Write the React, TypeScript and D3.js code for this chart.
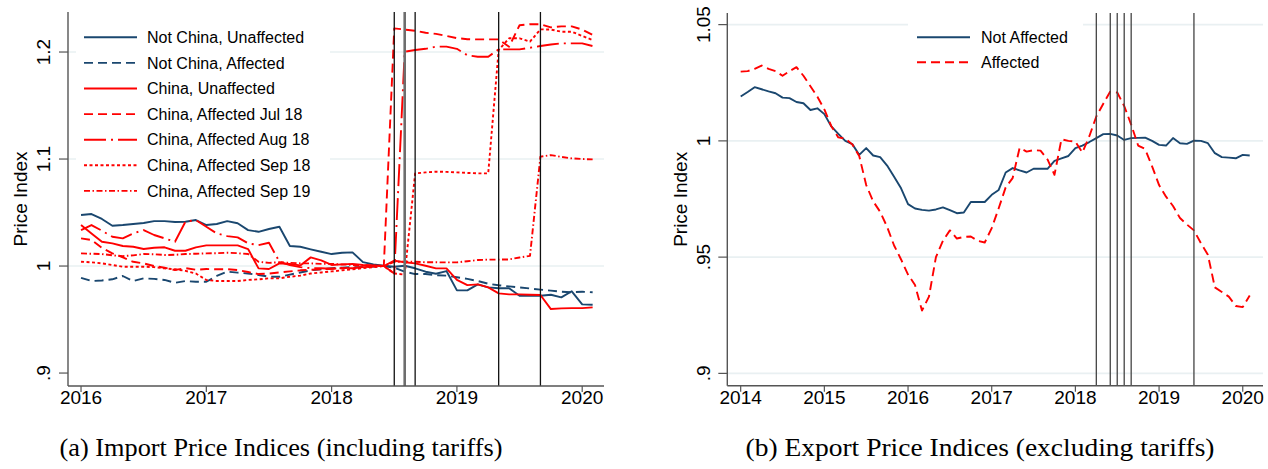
import React from 'react';
import * as d3 from 'd3';

// ---------- DATA ----------
// Panel (a): monthly, Jan 2016 - Feb 2020
const importStartYear = 2016;
const notChinaUnaffected = [1.0477,1.0486,1.044,1.0377,1.0383,1.0393,1.0402,1.042,1.042,1.0411,1.0414,1.043,1.0383,1.0393,1.042,1.040,1.0336,1.032,1.0346,1.0367,1.0187,1.018,1.0156,1.0134,1.0112,1.0124,1.0128,1.0037,1.0016,1.0003,0.9993,1.0003,0.9979,0.9947,0.9928,0.9953,0.9773,0.9773,0.9829,0.9801,0.9792,0.9792,0.9722,0.9722,0.9722,0.9732,0.9707,0.9764,0.9642,0.9638];
const notChinaAffected = [0.989,0.986,0.9865,0.9876,0.9907,0.986,0.9885,0.988,0.987,0.9844,0.986,0.9853,0.9853,0.9907,0.9947,0.9938,0.993,0.9916,0.990,0.990,0.992,0.994,0.996,0.997,0.998,0.9985,0.999,0.999,0.9995,1.0,0.9985,0.9947,0.9925,0.9925,0.9915,0.991,0.9895,0.988,0.986,0.9835,0.982,0.981,0.980,0.979,0.978,0.977,0.976,0.9755,0.976,0.9755];
const chinaUnaffected = [1.0383,1.0305,1.0227,1.0212,1.0187,1.018,1.0159,1.0171,1.0175,1.0143,1.0143,1.0175,1.0193,1.0193,1.0193,1.0193,1.0159,0.9978,0.9972,1.0025,1.0019,1.0006,1.0081,1.0053,1.001,1.0016,1.002,1.001,1.0005,1.0,1.005,1.0035,1.0025,1.0003,0.9978,0.9978,0.987,0.9822,0.9829,0.980,0.9745,0.9735,0.9735,0.9732,0.9729,0.9598,0.9604,0.9607,0.9607,0.9614];
const chinaJul18 = [1.0259,1.0243,1.017,1.0118,1.0081,1.004,1.0025,1.0,0.9984,0.9963,0.998,0.9965,0.9972,0.997,0.997,0.9963,0.9944,0.9925,0.993,0.994,0.995,0.996,0.9965,0.997,0.9975,0.998,0.9985,0.999,0.9995,1.0,1.2221,1.221,1.2199,1.218,1.217,1.215,1.213,1.212,1.2118,1.2118,1.2118,1.205,1.225,1.226,1.226,1.223,1.224,1.224,1.221,1.216];
const chinaAug18 = [1.0336,1.0383,1.033,1.0274,1.0259,1.0305,1.0336,1.029,1.0259,1.0227,1.0414,1.043,1.0367,1.0305,1.028,1.0268,1.0212,1.0196,1.0218,1.004,1.0009,0.999,0.998,0.998,0.9975,0.998,0.998,0.999,0.9995,1.0,0.993,1.2003,1.2019,1.203,1.205,1.205,1.203,1.197,1.1956,1.1956,1.2025,1.2025,1.2025,1.204,1.2056,1.207,1.2081,1.2081,1.2081,1.2056];
const chinaSep18 = [1.004,1.0035,1.0025,1.001,0.9994,0.9994,0.9994,0.999,0.9978,0.997,0.9955,0.993,0.987,0.986,0.986,0.986,0.987,0.9876,0.9885,0.9885,0.99,0.991,0.993,0.994,0.995,0.996,0.997,0.998,0.999,1.0,0.993,0.992,1.0866,1.0875,1.0882,1.088,1.0875,1.087,1.0866,1.0866,1.2019,1.2128,1.2128,1.2097,1.2212,1.221,1.219,1.219,1.215,1.2112];
const chinaSep19 = [1.0118,1.0115,1.0112,1.010,1.0093,1.010,1.0112,1.011,1.0103,1.0105,1.0112,1.0115,1.0118,1.012,1.0124,1.012,1.0112,1.004,1.003,1.0035,1.003,1.0025,1.0025,1.002,1.002,1.0015,1.001,1.001,1.0005,1.0,1.004,1.004,1.004,1.0035,1.0035,1.0034,1.0034,1.0045,1.0056,1.006,1.006,1.0062,1.008,1.0095,1.1022,1.1037,1.102,1.1006,1.1,1.0997];
const importLegend = ["Not China, Unaffected","Not China, Affected","China, Unaffected","China, Affected Jul 18","China, Affected Aug 18","China, Affected Sep 18","China, Affected Sep 19"];
const importEvents = [2018 + 6/12, 2018 + 7/12, 2018 + 8/12, 2019 + 4/12, 2019 + 8/12];
const importYTicks = [0.9, 1, 1.1, 1.2];
const importYLabels = [".9", "1", "1.1", "1.2"];
const importYGrid = [1, 1.1, 1.2];
const importXTicks = [2016, 2017, 2018, 2019, 2020];

// Panel (b): monthly, Jan 2014 - Feb 2020
const exportStartYear = 2014;
const notAffected = [1.0191,1.021,1.0231,1.0222,1.0213,1.0205,1.0186,1.0184,1.0167,1.0162,1.0133,1.014,1.0115,1.0062,1.003,1.0,0.9986,0.994,0.9969,0.9937,0.993,0.9894,0.9846,0.9796,0.9728,0.9709,0.9703,0.97,0.9705,0.9714,0.9702,0.9689,0.9692,0.9737,0.9737,0.9737,0.9768,0.9789,0.9864,0.9883,0.9873,0.9864,0.988,0.988,0.988,0.9914,0.9925,0.9935,0.9969,0.998,0.9995,1.0012,1.0029,1.003,1.0023,1.0004,1.0012,1.0013,1.0014,1.0,0.9983,0.998,1.0012,0.999,0.9987,1.0001,1.0,0.999,0.9947,0.993,0.9928,0.9925,0.994,0.9937];
const affected = [1.0298,1.0300,1.031,1.0324,1.031,1.030,1.028,1.030,1.0317,1.028,1.0235,1.019,1.0135,1.0063,1.0015,1.001,0.9985,0.9935,0.981,0.974,0.9695,0.963,0.955,0.949,0.9425,0.938,0.927,0.933,0.950,0.957,0.9615,0.958,0.9587,0.9589,0.957,0.9563,0.9625,0.971,0.980,0.984,0.997,0.9954,0.996,0.9958,0.992,0.9854,1.0007,1.0,0.9997,0.995,1.002,1.0105,1.016,1.0212,1.0208,1.015,1.007,0.998,0.9965,0.989,0.981,0.976,0.972,0.9668,0.964,0.9615,0.956,0.951,0.937,0.935,0.933,0.929,0.9285,0.9335];
const exportLegend = ["Not Affected", "Affected"];
const exportEvents = [2018 + 3/12, 2018 + 5/12, 2018 + 6/12, 2018 + 7/12, 2018 + 8/12, 2019 + 5/12];
const exportYTicks = [0.9, 0.95, 1, 1.05];
const exportYLabels = [".9", ".95", "1", "1.05"];
const exportYGrid = [0.9, 0.95, 1, 1.05];
const exportXTicks = [2014, 2015, 2016, 2017, 2018, 2019, 2020];

const captionA = "(a) Import Price Indices (including tariffs)";
const captionB = "(b) Export Price Indices (excluding tariffs)";
const yTitle = "Price Index";

// ---------- STYLE ----------
const NAVY = '#1a476f';
const RED = '#ff0000';
const GRID = '#e9f0f2';
const AXIS = '#555555';
const SANS = '"Liberation Sans", Arial, Helvetica, sans-serif';
const SERIF = '"Liberation Serif", "Times New Roman", serif';

const DASH = '9,5';
const LONGDASH_DOT = '22,5,2,5';
const SHORTDASH = '3,2.5';
const DASH_DOT = '6,2.5,1.5,2.5';

const importStyles = [
  { color: NAVY, dash: undefined },
  { color: NAVY, dash: DASH },
  { color: RED, dash: undefined },
  { color: RED, dash: DASH },
  { color: RED, dash: LONGDASH_DOT },
  { color: RED, dash: SHORTDASH },
  { color: RED, dash: DASH_DOT },
];
const exportStyles = [
  { color: NAVY, dash: undefined },
  { color: RED, dash: DASH },
];

const months = (start: number, n: number) => d3.range(n).map((i) => start + i / 12);

type PanelProps = {
  x: d3.ScaleLinear<number, number>;
  y: d3.ScaleLinear<number, number>;
  series: number[][];
  start: number;
  styles: { color: string; dash?: string }[];
  yTicks: number[];
  yLabels: string[];
  yGrid: number[];
  xTicks: number[];
  events: number[];
  eventStyle: (i: number) => { stroke: string; width: number };
  legend: string[];
  legendBox: { x0: number; x1: number; y0: number; y1: number; lx0: number; lx1: number; tx: number; ry0: number; dy: number };
  yTitleX: number;
  yLabelX: number;
};

function Panel(p: PanelProps) {
  const [xa, xb] = p.x.range();
  const [yb, ya] = p.y.range();
  const lb = p.legendBox;
  return (
    <g>
      {p.yGrid.map((v) => (
        <line key={'g' + v} x1={xa} x2={xb} y1={p.y(v)} y2={p.y(v)} stroke={GRID} strokeWidth={1.6} />
      ))}
      {/* legend background */}
      <rect x={lb.x0} y={lb.y0} width={lb.x1 - lb.x0} height={lb.y1 - lb.y0} fill="#ffffff" />
      {/* series */}
      {p.series.map((vals, k) => {
        const t = months(p.start, vals.length);
        const line = d3.line<number>().x((_, i) => p.x(t[i])).y((d) => p.y(d));
        return (
          <path key={'s' + k} d={line(vals) || ''} fill="none" stroke={p.styles[k].color}
            strokeWidth={1.9} strokeDasharray={p.styles[k].dash} strokeLinejoin="round" />
        );
      })}
      {/* event lines */}
      {p.events.map((e, i) => {
        const s = p.eventStyle(i);
        return <line key={'e' + i} x1={p.x(e)} x2={p.x(e)} y1={ya} y2={yb} stroke={s.stroke} strokeWidth={s.width} />;
      })}
      {/* axes */}
      <line x1={xa} x2={xa} y1={ya} y2={yb} stroke={AXIS} strokeWidth={1.4} />
      <line x1={xa} x2={xb} y1={yb} y2={yb} stroke={AXIS} strokeWidth={1.4} />
      {p.yTicks.map((v, i) => (
        <g key={'yt' + v}>
          <line x1={xa - 9} x2={xa} y1={p.y(v)} y2={p.y(v)} stroke={AXIS} strokeWidth={1.2} />
          <text transform={`translate(${p.yLabelX},${p.y(v)}) rotate(-90)`} textAnchor="middle"
            fontFamily={SANS} fontSize={19} fill="#000">{p.yLabels[i]}</text>
        </g>
      ))}
      {p.xTicks.map((v) => (
        <g key={'xt' + v}>
          <line x1={p.x(v)} x2={p.x(v)} y1={yb} y2={yb + 6} stroke={AXIS} strokeWidth={1.2} />
          <text x={p.x(v)} y={yb + 18} textAnchor="middle" fontFamily={SANS} fontSize={19} fill="#000">{v}</text>
        </g>
      ))}
      <text transform={`translate(${p.yTitleX},${(ya + yb) / 2}) rotate(-90)`} textAnchor="middle"
        fontFamily={SANS} fontSize={19} fill="#000">{yTitle}</text>
      {/* legend */}
      {p.legend.map((name, k) => {
        const ry = lb.ry0 + k * lb.dy;
        return (
          <g key={'l' + k}>
            <line x1={lb.lx0} x2={lb.lx1} y1={ry} y2={ry} stroke={p.styles[k].color} strokeWidth={1.9}
              strokeDasharray={p.styles[k].dash} />
            <text x={lb.tx} y={ry + 5.6} fontFamily={SANS} fontSize={16} fill="#000">{name}</text>
          </g>
        );
      })}
    </g>
  );
}

export default function App() {
  const xL = d3.scaleLinear().domain([2015.896, 2020.174]).range([68, 604]);
  const yL = d3.scaleLinear().domain([0.8879, 1.2374]).range([386, 12]);
  const xR = d3.scaleLinear().domain([2013.84, 2020.242]).range([727.3, 1263]);
  const yR = d3.scaleLinear().domain([0.8947, 1.055]).range([385.7, 13]);

  return (
    <div style={{ position: 'absolute', left: 0, top: 0 }}>
      <svg width={1268} height={469} style={{ display: 'block', background: '#fff' }}>
        <Panel x={xL} y={yL}
          series={[notChinaUnaffected, notChinaAffected, chinaUnaffected, chinaJul18, chinaAug18, chinaSep18, chinaSep19]}
          start={importStartYear} styles={importStyles}
          yTicks={importYTicks} yLabels={importYLabels} yGrid={importYGrid} xTicks={importXTicks}
          events={importEvents}
          eventStyle={(i) => (i === 1 ? { stroke: '#6e6e6e', width: 2.6 } : { stroke: '#111', width: 1.3 })}
          legend={importLegend}
          legendBox={{ x0: 76, x1: 330, y0: 16, y1: 205, lx0: 84, lx1: 137, tx: 147, ry0: 37.3, dy: 25.6 }}
          yTitleX={27} yLabelX={50} />
        <Panel x={xR} y={yR}
          series={[notAffected, affected]}
          start={exportStartYear} styles={exportStyles}
          yTicks={exportYTicks} yLabels={exportYLabels} yGrid={exportYGrid} xTicks={exportXTicks}
          events={exportEvents}
          eventStyle={() => ({ stroke: '#444', width: 1.3 })}
          legend={exportLegend}
          legendBox={{ x0: 908, x1: 1083, y0: 16, y1: 80, lx0: 917, lx1: 970, tx: 981, ry0: 37.3, dy: 25 }}
          yTitleX={687} yLabelX={710} />
        <text x={281} y={456} textAnchor="middle" fontFamily={SERIF} fontSize={25} fill="#000"
          textLength={443} lengthAdjust="spacingAndGlyphs">{captionA}</text>
        <text x={980} y={456} textAnchor="middle" fontFamily={SERIF} fontSize={25} fill="#000"
          textLength={469} lengthAdjust="spacingAndGlyphs">{captionB}</text>
      </svg>
    </div>
  );
}
